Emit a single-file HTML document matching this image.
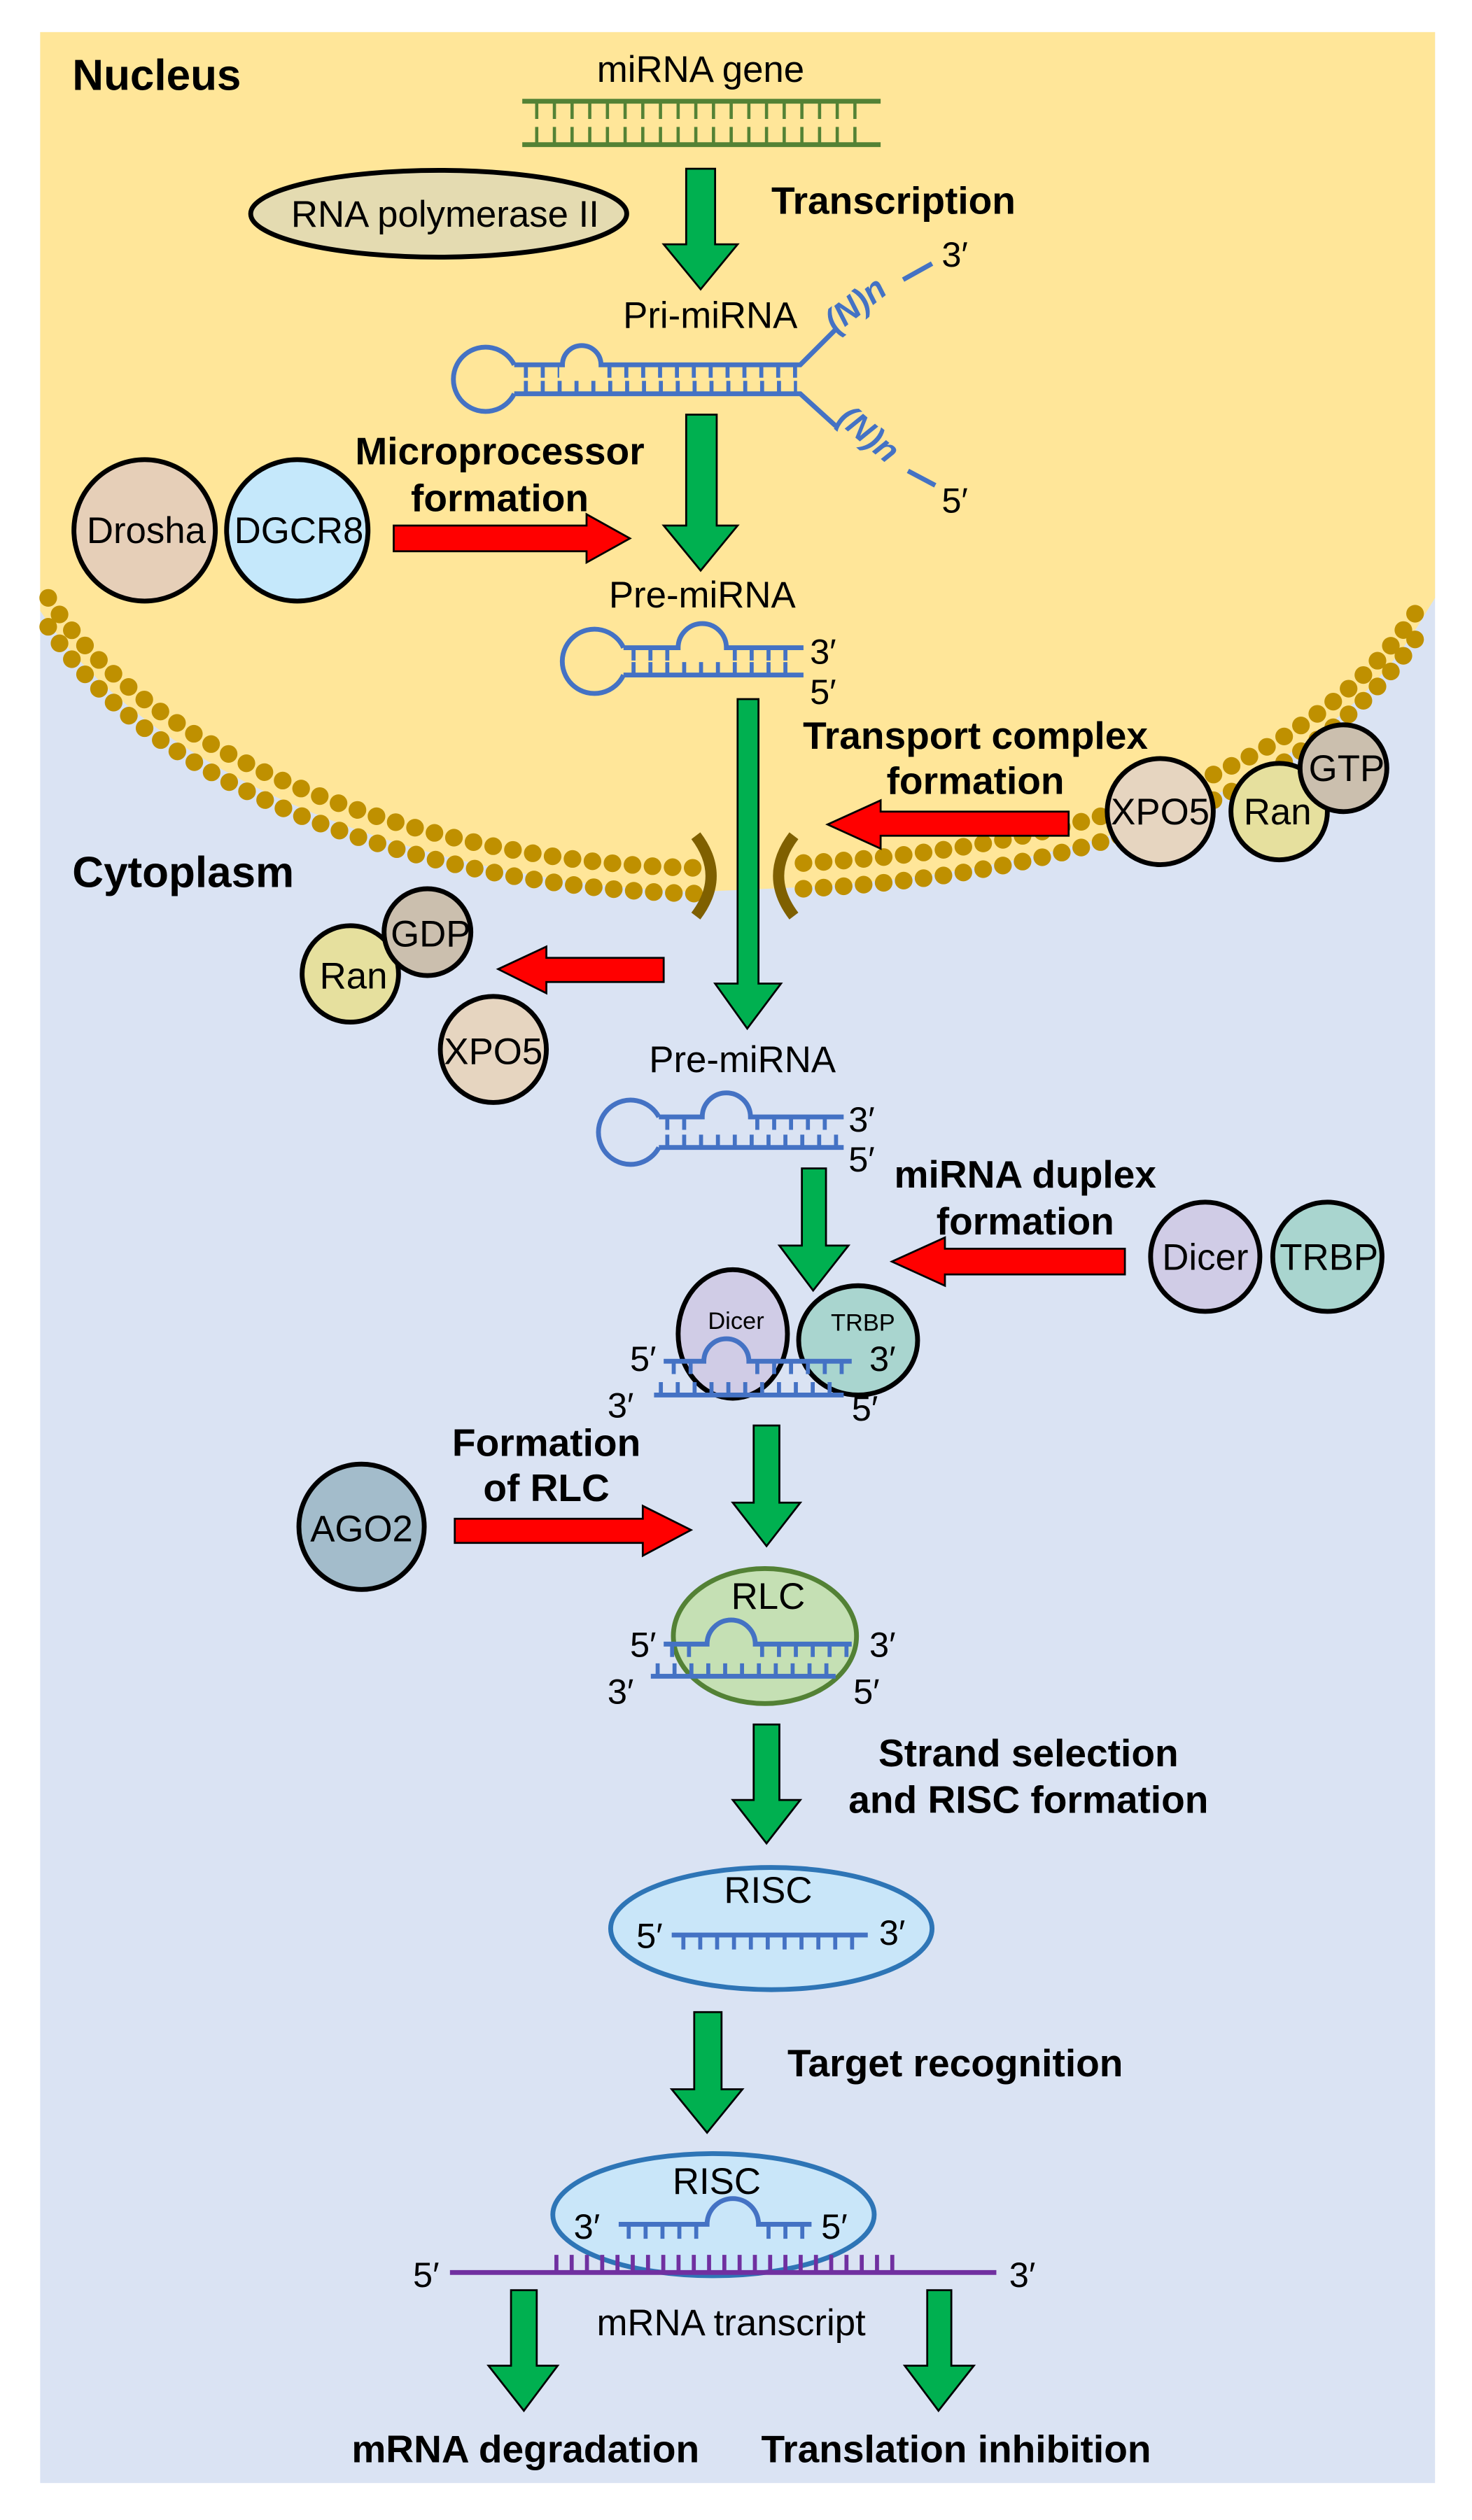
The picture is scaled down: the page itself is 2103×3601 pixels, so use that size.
<!DOCTYPE html>
<html><head><meta charset="utf-8"><style>
html,body{margin:0;padding:0;background:#fff}
svg{display:block}
text{font-family:"Liberation Sans",Arial,sans-serif}
.b{font-weight:bold;font-size:24px;fill:#000}
.n{font-size:23px;fill:#000}
.s{font-size:22px;fill:#000}
.r{fill:none;stroke:#4472c4;stroke-width:3}
.t{fill:none;stroke:#4472c4;stroke-width:8;stroke-dasharray:2.5 8}
.ga{fill:#00b050;stroke:#000;stroke-width:1.2}
.ra{fill:#ff0000;stroke:#000;stroke-width:1.2}
.c{stroke:#000;stroke-width:3}
</style></head><body>
<svg width="2103" height="3601" viewBox="0 0 916 1568" preserveAspectRatio="none" xmlns="http://www.w3.org/2000/svg">
<rect x="25" y="20" width="868" height="1525" fill="#dae3f3"/>
<path d="M25,20 H893 V372 L885,385 C830,478 700,540 500,552 L432,555 C250,548 90,478 25,380 Z" fill="#ffe699"/>
<!-- membrane beads -->
<g fill="none" stroke="#bf9000" stroke-width="11" stroke-linecap="round" stroke-dasharray="0 12.5">
<path d="M30,372 C90,466 250,536 432,540"/>
<path d="M30,390 C90,484 250,552 432,556"/>
<path d="M500,537 C700,527 830,464 885,375"/>
<path d="M500,553 C700,543 830,480 885,391"/>
</g>
<path d="M433,520 Q452,545 433,570" fill="none" stroke="#7f6000" stroke-width="7"/>
<path d="M494,520 Q475,545 494,570" fill="none" stroke="#7f6000" stroke-width="7"/>

<text x="45" y="56" class="b" style="font-size:27px">Nucleus</text>
<text x="45" y="552" class="b" style="font-size:27px">Cytoplasm</text>

<!-- miRNA gene -->
<text x="436" y="51" text-anchor="middle" class="n">miRNA gene</text>
<g stroke="#548235" fill="none">
<line x1="325" y1="63" x2="548" y2="63" stroke-width="3"/>
<line x1="325" y1="90" x2="548" y2="90" stroke-width="3"/>
<line x1="333" y1="69" x2="540" y2="69" stroke-width="10" stroke-dasharray="2 9"/>
<line x1="333" y1="84" x2="540" y2="84" stroke-width="10" stroke-dasharray="2 9"/>
</g>
<ellipse cx="273" cy="133" rx="117" ry="27" fill="#e4dbb1" class="c"/>
<text x="277" y="141" text-anchor="middle" class="n">RNA polymerase II</text>

<polygon class="ga" points="427,105 445,105 445,152 459,152 436,180 413,152 427,152"/>
<text x="480" y="133" class="b">Transcription</text>

<!-- Pri-miRNA -->
<text x="442" y="204" text-anchor="middle" class="n">Pri-miRNA</text>
<path class="r" d="M320,227 A20,20 0 1 0 320,245 M320,227 H350 A12,12 0 0 1 374,227 H498 L520,205 M562,174 L580,164 M320,245 H498 L520,265 M565,293 L582,302"/>
<path class="t" d="M326,231 H348 M378,231 H496 M326,241 H496"/>
<text x="0" y="0" transform="translate(520,208) rotate(-38)" style="font-size:21px;font-weight:bold;font-style:italic;fill:#4472c4">(N)n</text>
<text x="0" y="0" transform="translate(520,262) rotate(40)" style="font-size:21px;font-weight:bold;font-style:italic;fill:#4472c4">(N)n</text>
<text x="586" y="166" class="s">3′</text>
<text x="586" y="319" class="s">5′</text>

<polygon class="ga" points="427,258 446,258 446,327 459,327 436,355 413,327 427,327"/>
<text x="311" y="289" text-anchor="middle" class="b">Microprocessor</text>
<text x="311" y="318" text-anchor="middle" class="b">formation</text>
<circle cx="90" cy="330" r="44" fill="#e6cfb8" class="c"/>
<circle cx="185" cy="330" r="44" fill="#c5e8fb" class="c"/>
<text x="91" y="338" text-anchor="middle" class="n">Drosha</text>
<text x="186" y="338" text-anchor="middle" class="n">DGCR8</text>
<polygon class="ra" points="245,327 365,327 365,320 392,335 365,350 365,343 245,343"/>

<!-- Pre-miRNA nucleus -->
<text x="437" y="378" text-anchor="middle" class="n">Pre-miRNA</text>
<path class="r" d="M388,403 A20,20 0 1 0 388,420 M388,403 H422 A15,15 0 0 1 452,403 H500 M388,420 H500"/>
<path class="t" d="M393,407 H418 M456,407 H498 M393,416 H498"/>
<text x="504" y="413" class="s">3′</text>
<text x="504" y="438" class="s">5′</text>

<polygon class="ga" points="459,435 472,435 472,612 486,612 465,640 445,612 459,612"/>
<text x="607" y="466" text-anchor="middle" class="b">Transport complex</text>
<text x="607" y="494" text-anchor="middle" class="b">formation</text>
<polygon class="ra" points="665,505 548,505 548,498 515,513 548,528 548,520 665,520"/>
<circle cx="722" cy="505" r="33" fill="#e6d5c0" class="c"/>
<circle cx="796" cy="505" r="30" fill="#e6e09e" class="c"/>
<circle cx="836" cy="478" r="27" fill="#cbbfae" class="c"/>
<text x="722" y="513" text-anchor="middle" class="n">XPO5</text>
<text x="795" y="513" text-anchor="middle" class="n">Ran</text>
<text x="838" y="486" text-anchor="middle" class="n">GTP</text>

<circle cx="218" cy="606" r="30" fill="#e6e09e" class="c"/>
<circle cx="266" cy="580" r="27" fill="#cbbfae" class="c"/>
<circle cx="307" cy="653" r="33" fill="#e6d5c0" class="c"/>
<text x="220" y="615" text-anchor="middle" class="n">Ran</text>
<text x="268" y="589" text-anchor="middle" class="n">GDP</text>
<text x="307" y="662" text-anchor="middle" class="n">XPO5</text>
<polygon class="ra" points="413,596 340,596 340,589 310,603 340,618 340,611 413,611"/>

<!-- Pre-miRNA cytoplasm -->
<text x="462" y="667" text-anchor="middle" class="n">Pre-miRNA</text>
<path class="r" d="M410,695 A20,20 0 1 0 410,714 M410,695 H437 A15,15 0 0 1 467,695 H525 M410,714 H525"/>
<path class="t" d="M414,699 H434 M470,699 H522 M414,710 H522"/>
<text x="528" y="704" class="s">3′</text>
<text x="528" y="729" class="s">5′</text>

<polygon class="ga" points="499,727 514,727 514,775 528,775 506,803 485,775 499,775"/>
<text x="638" y="739" text-anchor="middle" class="b">miRNA duplex</text>
<text x="638" y="768" text-anchor="middle" class="b">formation</text>
<polygon class="ra" points="700,777 588,777 588,770 555,785 588,800 588,793 700,793"/>
<circle cx="750" cy="782" r="34" fill="#d0cce6" class="c"/>
<circle cx="826" cy="782" r="34" fill="#a9d5cf" class="c"/>
<text x="750" y="790" text-anchor="middle" class="n">Dicer</text>
<text x="827" y="790" text-anchor="middle" class="n">TRBP</text>

<!-- Dicer/TRBP duplex -->
<ellipse cx="456" cy="830" rx="34" ry="40" fill="#d0cce6" class="c"/>
<ellipse cx="534" cy="834" rx="37" ry="34" fill="#a9d5cf" class="c"/>
<text x="458" y="827" text-anchor="middle" style="font-size:15px">Dicer</text>
<text x="537" y="828" text-anchor="middle" style="font-size:15px">TRBP</text>
<path class="r" d="M413,847 H438 A14,14 0 0 1 466,847 H530 M407,868 H525"/>
<path class="t" d="M418,851 H436 M470,851 H528 M410,864 H523"/>
<text x="392" y="853" class="s">5′</text>
<text x="541" y="853" class="s">3′</text>
<text x="378" y="882" class="s">3′</text>
<text x="530" y="884" class="s">5′</text>

<polygon class="ga" points="469,887 485,887 485,935 498,935 477,962 456,935 469,935"/>
<text x="340" y="906" text-anchor="middle" class="b">Formation</text>
<text x="340" y="934" text-anchor="middle" class="b">of RLC</text>
<circle cx="225" cy="950" r="39" fill="#a3bccb" class="c"/>
<text x="225" y="959" text-anchor="middle" class="n">AGO2</text>
<polygon class="ra" points="283,945 400,945 400,937 430,952 400,968 400,960 283,960"/>

<!-- RLC -->
<ellipse cx="476" cy="1018" rx="57" ry="42" fill="#c5e0b4" stroke="#538135" stroke-width="3"/>
<text x="478" y="1001" text-anchor="middle" class="n">RLC</text>
<path class="r" d="M413,1023 H440 A15,15 0 0 1 470,1023 H530 M405,1043 H520"/>
<path class="t" d="M417,1027 H437 M473,1027 H528 M408,1039 H518"/>
<text x="392" y="1031" class="s">5′</text>
<text x="541" y="1031" class="s">3′</text>
<text x="378" y="1060" class="s">3′</text>
<text x="531" y="1060" class="s">5′</text>

<polygon class="ga" points="469,1073 485,1073 485,1120 498,1120 477,1147 456,1120 469,1120"/>
<text x="640" y="1099" text-anchor="middle" class="b">Strand selection</text>
<text x="640" y="1128" text-anchor="middle" class="b">and RISC formation</text>

<!-- RISC 1 -->
<ellipse cx="480" cy="1200" rx="100" ry="38" fill="#c9e6f9" stroke="#2e75b6" stroke-width="3"/>
<text x="478" y="1184" text-anchor="middle" class="n">RISC</text>
<path class="r" d="M418,1204 H540"/>
<path class="t" d="M424,1209 H532"/>
<text x="396" y="1212" class="s">5′</text>
<text x="547" y="1210" class="s">3′</text>

<polygon class="ga" points="432,1252 449,1252 449,1300 462,1300 440,1327 418,1300 432,1300"/>
<text x="490" y="1292" class="b">Target recognition</text>

<!-- RISC 2 -->
<ellipse cx="444" cy="1378" rx="100" ry="38" fill="#c9e6f9" stroke="#2e75b6" stroke-width="3"/>
<text x="446" y="1365" text-anchor="middle" class="n">RISC</text>
<path class="r" d="M385,1384 H440 A16,16 0 0 1 472,1384 H505"/>
<path class="t" d="M390,1389 H436 M477,1389 H503"/>
<text x="357" y="1393" class="s">3′</text>
<text x="511" y="1393" class="s">5′</text>
<line x1="280" y1="1414" x2="620" y2="1414" stroke="#7030a0" stroke-width="3"/>
<line x1="345" y1="1408" x2="560" y2="1408" stroke="#7030a0" stroke-width="10" stroke-dasharray="2.5 7"/>
<text x="257" y="1423" class="s">5′</text>
<text x="628" y="1423" class="s">3′</text>
<text x="455" y="1453" text-anchor="middle" class="n">mRNA transcript</text>

<polygon class="ga" points="318,1425 334,1425 334,1472 347,1472 326,1500 304,1472 318,1472"/>
<polygon class="ga" points="577,1425 592,1425 592,1472 606,1472 584,1500 563,1472 577,1472"/>
<text x="327" y="1532" text-anchor="middle" class="b">mRNA degradation</text>
<text x="595" y="1532" text-anchor="middle" class="b">Translation inhibition</text>
</svg>
</body></html>
